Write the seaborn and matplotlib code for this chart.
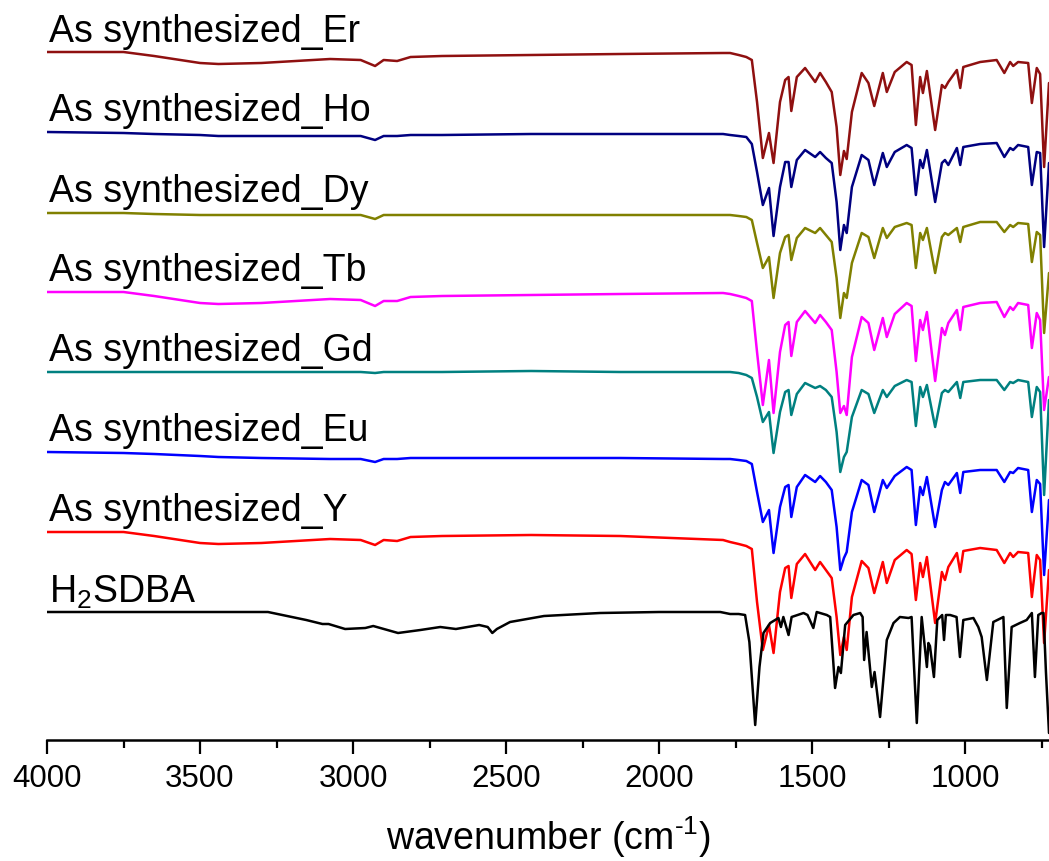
import matplotlib
matplotlib.use("Agg")
import matplotlib.pyplot as plt
from matplotlib.ticker import MultipleLocator
import pandas as pd
import seaborn as sns

sns.set_theme(style="white")
plt.rcParams['font.family'] = ['Liberation Sans', 'DejaVu Sans']
plt.rcParams['mathtext.fontset'] = 'custom'
plt.rcParams['mathtext.rm'] = 'Liberation Sans'
plt.rcParams['mathtext.it'] = 'Liberation Sans:italic'
plt.rcParams['mathtext.bf'] = 'Liberation Sans:bold'

# ---------------- data ----------------
# wavenumber grid (cm-1) used for the seven as-synthesized samples
wn_mof = [4000, 3750, 3650, 3500, 3440, 3300, 3075, 2975, 2928, 2900, 2856, 2812, 2709, 2418, 2127, 1791, 1768,
          1740, 1715, 1697, 1680, 1661, 1641, 1626, 1605, 1588, 1577, 1568, 1550, 1523,
          1490, 1474, 1455, 1436, 1420, 1408, 1396, 1387, 1370, 1338,
          1316, 1297, 1269, 1256, 1230, 1191, 1175, 1161, 1147, 1138,
          1125, 1098, 1076, 1066, 1055, 1027, 1016, 1006, 951, 897,
          872, 853, 843, 827, 794, 782, 766, 755, 742, 726]

# band depth below each trace's high-wavenumber level (a.u.)
depth_er = [0, 0, 4, 11, 12, 11, 7, 8, 14, 8, 9, 5, 4, 3, 2, 1, 1,
            3, 5, 8, 50, 106, 81, 111, 50, 28, 25, 59, 25, 16,
            30, 21, 30, 40, 75, 123, 99, 107, 60, 21,
            31, 54, 21, 40, 20, 10, 13, 73, 25, 41,
            19, 78, 33, 36, 30, 18, 36, 15, 10, 8,
            21, 10, 14, 10, 11, 51, 16, 22, 115, 31]
depth_ho = [0, 1, 2, 3, 4, 4, 4, 4, 8, 4, 4, 3, 3, 2, 2, 2, 3,
            4, 5, 12, 40, 73, 56, 104, 55, 30, 30, 55, 28, 18,
            25, 20, 26, 31, 70, 118, 93, 101, 55, 23,
            28, 53, 21, 35, 20, 13, 16, 63, 28, 36,
            18, 70, 31, 28, 33, 16, 33, 15, 12, 11,
            25, 16, 18, 13, 15, 53, 20, 21, 115, 31]
depth_dy = [0, 0, 1, 2, 2, 2, 2, 2, 6, 2, 2, 2, 2, 2, 2, 2, 2,
            3, 4, 7, 30, 55, 44, 85, 40, 24, 22, 47, 25, 15,
            20, 15, 22, 29, 65, 105, 80, 85, 50, 20,
            24, 45, 15, 25, 14, 10, 12, 55, 20, 27,
            15, 60, 24, 20, 22, 15, 29, 14, 9, 9,
            19, 12, 14, 10, 11, 49, 19, 22, 120, 60]
depth_tb = [0, 0, 4, 11, 12, 11, 7, 8, 14, 9, 9, 5, 4, 3, 2, 1, 2,
            4, 6, 9, 60, 113, 68, 121, 60, 33, 30, 64, 30, 19,
            31, 23, 30, 38, 80, 121, 114, 123, 65, 25,
            31, 58, 26, 45, 22, 11, 14, 69, 28, 38,
            20, 89, 36, 43, 31, 18, 38, 15, 11, 10,
            25, 15, 18, 11, 13, 56, 21, 28, 118, 85]
depth_gd = [0, 0, 0, 0, 0, 0, 0, 0, 1, 0, 0, 0, 0, -1, 0, 0, 0,
            1, 3, 6, 25, 50, 40, 81, 40, 20, 18, 43, 22, 11,
            16, 14, 18, 25, 60, 100, 85, 80, 45, 18,
            22, 41, 18, 25, 14, 8, 10, 54, 15, 25,
            13, 55, 21, 18, 20, 10, 26, 10, 8, 8,
            18, 10, 11, 8, 10, 45, 15, 20, 123, 28]
depth_eu = [0, 1, 2, 4, 5, 6, 7, 7, 10, 7, 7, 6, 6, 6, 6, 7, 7,
            8, 9, 12, 40, 70, 58, 101, 55, 35, 33, 65, 35, 23,
            30, 24, 30, 38, 75, 118, 106, 100, 60, 28,
            33, 60, 28, 36, 24, 15, 18, 73, 35, 43,
            25, 75, 38, 30, 33, 21, 41, 20, 18, 18,
            30, 20, 21, 16, 18, 60, 28, 32, 123, 48]
depth_y = [0, 0, 4, 11, 12, 11, 7, 8, 13, 8, 9, 5, 4, 3, 4, 8, 10,
           12, 14, 17, 70, 118, 93, 121, 60, 36, 34, 66, 32, 22,
           38, 30, 38, 46, 85, 123, 105, 118, 65, 29,
           36, 61, 30, 51, 28, 18, 22, 68, 31, 45,
           25, 91, 40, 48, 35, 21, 40, 19, 16, 18,
           31, 21, 25, 20, 21, 65, 23, 28, 111, 38]

# free ligand H2SDBA
wn_ligand = [4000, 3500, 3278, 3153, 3100, 3080, 3026, 2960, 2934, 2853,
             2780, 2715, 2664, 2588, 2560, 2545, 2530, 2487, 2376, 2193,
             2000, 1800, 1768, 1740, 1719, 1705, 1686, 1672, 1659, 1637,
             1610, 1602, 1594, 1577, 1567, 1528, 1515, 1496, 1485, 1452,
             1441, 1425, 1414, 1406, 1392, 1365, 1343, 1335, 1330, 1322,
             1305, 1296, 1278, 1256, 1234, 1213, 1185, 1175, 1158, 1142,
             1125, 1120, 1115, 1102, 1091, 1075, 1069, 1063, 1049, 1028,
             1017, 1006, 973, 957, 946, 929, 908, 875, 864, 848,
             821, 799, 782, 772, 761, 750, 744, 736, 726]
depth_ligand = [0, 0, 0, 8, 12, 12, 17, 16, 14, 21,
                18, 15, 17, 13, 15, 21, 17, 10, 4, 1,
                0, 0, 2, 2, 3, 30, 113, 55, 21, 11,
                6, 15, 5, 23, 5, 1, 3, 16, 0, 3,
                5, 76, 55, 61, 13, 3, 1, 5, 48, 20,
                75, 60, 105, 28, 11, 5, 6, 5, 111, 5,
                55, 31, 34, 65, 8, 3, 28, 3, 3, 5,
                45, 8, 6, 15, 25, 68, 10, 5, 96, 15,
                11, 8, 1, 65, 3, 1, 1, 60, 121]

sample_names = ["As synthesized_Er", "As synthesized_Ho", "As synthesized_Dy", "As synthesized_Tb",
                "As synthesized_Gd", "As synthesized_Eu", "As synthesized_Y", r"H$_2$SDBA"]
sample_wn = [wn_mof] * 7 + [wn_ligand]
sample_depth = [depth_er, depth_ho, depth_dy, depth_tb, depth_gd, depth_eu, depth_y, depth_ligand]

# ---------------- styling / layout ----------------
colors = ["#8f1010", "#000080", "#808000", "#ff00ff", "#008080", "#0000ff", "#ff0000", "#000000"]
stack_offset = [688, 608, 527, 448, 368, 288, 208, 128]
label_gap = [10, 11, 11, 11, 11, 11, 11, 9]

fig = plt.figure(figsize=(10.49, 8.61), dpi=100)
ax = fig.add_axes([47 / 1049, 121 / 861, 1002 / 1049, 740 / 861])

for name, wn, dep, col, off, gap in zip(sample_names, sample_wn, sample_depth, colors, stack_offset, label_gap):
    assert len(wn) == len(dep)
    df = pd.DataFrame({"wavenumber": wn, "depth": dep})
    df["signal"] = off - df["depth"]
    sns.lineplot(data=df, x="wavenumber", y="signal", color=col, lw=1.8,
                 estimator=None, sort=False, ax=ax)
    ax.text(3994, off + gap, name, fontsize=27, ha="left", va="baseline", color="black")

ax.set_xlim(4000, 726)
ax.set_ylim(0, 740)
ax.set_xticks([4000, 3500, 3000, 2500, 2000, 1500, 1000])
ax.xaxis.set_minor_locator(MultipleLocator(250))
ax.set_yticks([])
ax.set_ylabel("")
ax.set_xlabel(r"wavenumber (cm$^{\text{-}1}$)", fontsize=27, labelpad=15, color="black")

for s in ["left", "right", "top"]:
    ax.spines[s].set_visible(False)
ax.spines["bottom"].set_color("black")
ax.spines["bottom"].set_linewidth(1.8)
ax.tick_params(axis="x", which="major", direction="out", length=10, width=1.6,
               color="black", labelsize=22.5, pad=7, labelcolor="black", bottom=True)
ax.tick_params(axis="x", which="minor", direction="out", length=6, width=1.6,
               color="black", bottom=True)
ax.set_facecolor("white")
ax.grid(False)

fig.savefig("out.png", dpi=100, facecolor="white")
